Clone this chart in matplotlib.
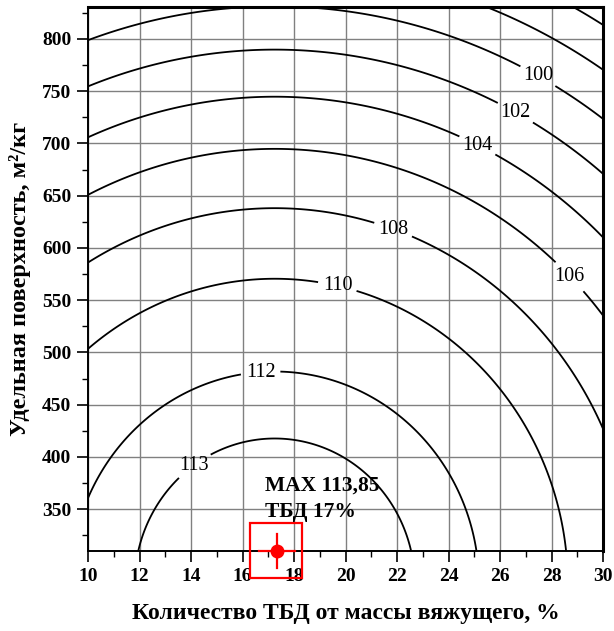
import numpy as np
import matplotlib
matplotlib.use("Agg")
import matplotlib.pyplot as plt
from matplotlib.patches import Rectangle
from matplotlib.ticker import MultipleLocator

# ---- data ----
# response-surface model: value = peak - ax*(x-x0)^2 - by*(y-y0)^2
peak_value = 113.89
x_center = 17.25
y_center = 277.5
coef_x = 0.030
coef_y = 4.53e-5

unlabelled_levels = [96, 98]
labelled_levels = [100, 102, 104, 106, 108, 110, 112, 113]
label_positions = [(27.6, 770), (26.7, 734), (25.2, 702), (28.85, 576),
                   (21.9, 621), (19.7, 565), (16.7, 482), (14.3, 386)]

x_range = (10, 30)
y_range = (310, 830.6)
x_ticks = [10, 12, 14, 16, 18, 20, 22, 24, 26, 28, 30]
y_ticks = [350, 400, 450, 500, 550, 600, 650, 700, 750, 800]

max_x = 17.33
max_y = 310
max_x_err = 0.7
max_y_err = 16
max_text = ["MAX 113,85", "ТБД 17%"]

xlabel = "Количество ТБД от массы вяжущего, %"
ylabel = "Удельная поверхность, м²/кг"

# ---- figure ----
plt.rcParams['font.family'] = ['Liberation Serif', 'DejaVu Serif']
fig = plt.figure(figsize=(6.14, 6.31), dpi=100)
ax = fig.add_axes([88/614, 1-551/631, (603-88)/614, (551-7)/631])

xs = np.linspace(x_range[0], x_range[1], 400)
ys = np.linspace(y_range[0], y_range[1], 400)
X, Y = np.meshgrid(xs, ys)
Z = peak_value - coef_x*(X-x_center)**2 - coef_y*(Y-y_center)**2

ax.set_xlim(*x_range)
ax.set_ylim(*y_range)
ax.set_xticks(x_ticks)
ax.set_yticks(y_ticks)
ax.xaxis.set_minor_locator(MultipleLocator(1))
ax.yaxis.set_minor_locator(MultipleLocator(25))
ax.grid(True, which='major', color='0.5', lw=1.0, zorder=0)
ax.set_axisbelow(True)

ax.contour(X, Y, Z, levels=unlabelled_levels, colors='black', linewidths=1.3, zorder=2)
cs = ax.contour(X, Y, Z, levels=labelled_levels, colors='black', linewidths=1.3, zorder=2)
texts = ax.clabel(cs, inline=True, fmt='%d', fontsize=14.5,
                  manual=label_positions, inline_spacing=5)
for t in texts:
    t.set_rotation(0)

# maximum marker
ax.plot([max_x - max_x_err, max_x + max_x_err], [max_y, max_y], color='red',
        lw=1.6, clip_on=False, zorder=5)
ax.plot([max_x, max_x], [max_y - max_y_err, max_y + max_y_err], color='red',
        lw=1.6, clip_on=False, zorder=5)
ax.plot([max_x], [max_y], 'o', color='red', ms=9, clip_on=False, zorder=6)
rect = Rectangle((max_x - 1.04, max_y - 26), 2.02, 52.6, fill=False,
                 edgecolor='red', lw=1.6, clip_on=False, zorder=6)
ax.add_patch(rect)
ax.text(max_x - 0.46, max_y + 58, max_text[0], fontsize=15.5, fontweight='bold',
        va='baseline', ha='left', zorder=7)
ax.text(max_x - 0.46, max_y + 32.6, max_text[1], fontsize=15.5, fontweight='bold',
        va='baseline', ha='left', zorder=7)

ax.tick_params(which='major', direction='out', length=8, width=1.2,
               labelsize=14, pad=4)
ax.tick_params(which='minor', direction='out', length=4.5, width=1.0)
for lab in ax.get_xticklabels() + ax.get_yticklabels():
    lab.set_fontweight('bold')
for side in ['left', 'bottom']:
    ax.spines[side].set_linewidth(1.4)
for side in ['top', 'right']:
    ax.spines[side].set_linewidth(2.2)

ax.set_xlabel(xlabel, fontsize=17, fontweight='bold', labelpad=13)
ax.set_ylabel(ylabel, fontsize=17.5, fontweight='bold', labelpad=8)

fig.savefig("out.png", dpi=100)
